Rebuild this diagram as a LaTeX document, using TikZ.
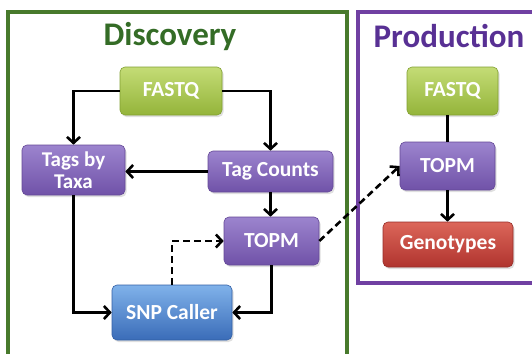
\documentclass[tikz,border=0pt]{standalone}
\usepackage{fontspec}
\setmainfont{Carlito}
\usetikzlibrary{arrows.meta,shadows,calc}
\definecolor{discgreen}{RGB}{72,122,44}
\definecolor{disctext}{RGB}{52,108,38}
\definecolor{prodpurple}{RGB}{112,64,162}
\definecolor{prodtext}{RGB}{88,48,148}
\definecolor{gtop}{RGB}{196,220,118}
\definecolor{gbot}{RGB}{148,180,58}
\definecolor{gline}{RGB}{130,160,50}
\definecolor{ptop}{RGB}{156,132,206}
\definecolor{pbot}{RGB}{112,82,168}
\definecolor{pline}{RGB}{100,72,150}
\definecolor{btop}{RGB}{128,178,234}
\definecolor{bbot}{RGB}{58,108,184}
\definecolor{bline}{RGB}{50,95,165}
\definecolor{rtop}{RGB}{220,102,90}
\definecolor{rbot}{RGB}{176,52,46}
\definecolor{rline}{RGB}{150,45,40}
\tikzset{
  boxbase/.style={rounded corners=5pt, text=white, align=center,
    font=\bfseries\fontsize{21.5}{21}\selectfont, inner sep=2pt,
    drop shadow={opacity=0.25,shadow xshift=1.5pt,shadow yshift=-2pt}},
  greenbox/.style={boxbase, top color=gtop, bottom color=gbot, draw=gline, line width=0.6pt},
  purplebox/.style={boxbase, top color=ptop, bottom color=pbot, draw=pline, line width=0.6pt},
  bluebox/.style={boxbase, top color=btop, bottom color=bbot, draw=bline, line width=0.6pt},
  redbox/.style={boxbase, top color=rtop, bottom color=rbot, draw=rline, line width=0.6pt},
  conn/.style={line width=2.6pt, black},
  arr/.style={conn, -{Straight Barb[length=6pt,width=13pt,line width=2.6pt]}},
  dasharr/.style={arr, dash pattern=on 7pt off 4pt},
  title/.style={font=\bfseries\fontsize{33}{34}\selectfont}
}
\begin{document}
\begin{tikzpicture}[x=1pt,y=-1pt]
\useasboundingbox (0,0) rectangle (532,353);
\fill[white] (0,0) rectangle (532,353);
\clip (0,0) rectangle (532,353);
% frames
\draw[discgreen, line width=4.5pt] (8,12) rectangle (347,370);
\draw[prodpurple, line width=4.5pt] (358,12) rectangle (545,283);
\node[title, text=disctext] (disc) at (170,37) {Discovery};
\node[title, text=prodtext] (prod) at (449,36) {Production};
% discovery nodes
\node[greenbox, minimum width=102pt, minimum height=48pt] (dfastq) at (171,91) {FASTQ};
\node[purplebox, minimum width=103pt, minimum height=50pt, font=\bfseries\fontsize{21}{22}\selectfont] (taxa) at (73.5,170) {Tags by\\Taxa};
\node[purplebox, minimum width=125pt, minimum height=41pt] (counts) at (270.5,171.5) {Tag Counts};
\node[purplebox, minimum width=95pt, minimum height=48pt] (dtopm) at (271.5,241) {TOPM};
\node[bluebox, minimum width=120pt, minimum height=55pt] (snp) at (172,312.5) {SNP Caller};
% production nodes
\node[greenbox, minimum width=91pt, minimum height=48pt] (pfastq) at (452.5,91) {FASTQ};
\node[purplebox, minimum width=95pt, minimum height=48pt] (ptopm) at (447.5,166) {TOPM};
\node[redbox, minimum width=130pt, minimum height=45pt] (geno) at (448,244.5) {Genotypes};
% connectors
\draw[arr] (dfastq.west) -| (taxa.north);
\draw[arr] (dfastq.east) -| (counts.north);
\draw[arr] (counts.west) -- (counts.west -| taxa.east);
\draw[arr] (counts.south) -- (counts.south |- dtopm.north);
\draw[arr] (taxa.south) |- (snp.west);
\draw[arr] (dtopm.south) |- (snp.east);
\draw[dasharr] (snp.north) |- (dtopm.west);
\draw[dasharr] (dtopm.east) -- (ptopm.west);
\draw[conn] (ptopm.north) -- (ptopm.north |- pfastq.south);
\draw[arr] (ptopm.south) -- (ptopm.south |- geno.north);
\end{tikzpicture}
\end{document}
